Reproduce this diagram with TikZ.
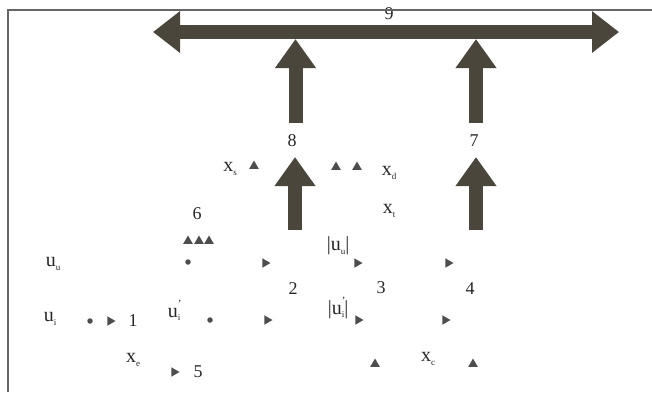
\documentclass[tikz,border=0pt]{standalone}
\usepackage{fontspec}
\setmainfont{Liberation Serif}
\usetikzlibrary{arrows.meta,shapes.geometric}
\definecolor{ink}{HTML}{4A463C}
\definecolor{mark}{HTML}{4D4D4D}
\definecolor{txt}{HTML}{262626}
\newcommand{\vsub}[2]{#1\raisebox{-0.35ex}{\fontsize{9}{9}\selectfont #2}}
\newcommand{\vsubp}[2]{#1\rlap{\raisebox{1.1ex}{\fontsize{11}{11}\selectfont '}}\raisebox{-0.35ex}{\fontsize{9}{9}\selectfont #2}}

\begin{document}
\begin{tikzpicture}[x=1pt, y=-1pt, >={Triangle[width=39pt,length=29pt]},
  num/.style={text=txt, font=\fontsize{18}{18}\selectfont, inner sep=0pt},
  var/.style={text=txt, font=\fontsize{20}{20}\selectfont, inner sep=0pt},
  upmark/.style={regular polygon, regular polygon sides=3, fill=mark, inner sep=0pt, minimum size=11pt},
  rtmark/.style={upmark, shape border rotate=-90},
  dotmark/.style={circle, fill=mark, inner sep=0pt, minimum size=5.5pt},
  fat/.style={draw=ink, line width=14pt},
  frame/.style={draw=black!60, line width=1.5pt}]
  \useasboundingbox (0,0) rectangle (652,392);
  % bus 9 and the two feeds
  \coordinate (busl) at (153,32);
  \coordinate (busr) at (619,32);
  \coordinate (in8) at (295.5,39);
  \coordinate (in7) at (476,39);
  \coordinate (out8) at (295.5,123);
  \coordinate (out7) at (476,123);
  \coordinate (top8) at (295,157);
  \coordinate (top7) at (476,157);
  \coordinate (bot8) at (295,230);
  \coordinate (bot7) at (476,230);
  \draw[fat, {Triangle[width=40pt,length=27pt]}-{Triangle[width=40pt,length=27pt]}] (busl) -- (busr);
  \draw[fat, ->] (out8) -- (in8);
  \draw[fat, ->] (out7) -- (in7);
  \draw[fat, ->] (bot8) -- (top8);
  \draw[fat, ->] (bot7) -- (top7);
  \node[num] (n9) at (389,14) {9};
  \draw[frame] (8,392) |- (652,10);
  \node[num] (n8) at (292,141) {8};
  \node[num] (n7) at (474,141) {7};
  % upper marks
  \node[var] (xs) at (230,169) {\vsub{x}{s}};
  \node[upmark] (ms) at (254,166) {};
  \node[upmark] (md1) at (336,167) {};
  \node[upmark] (md2) at (357,167) {};
  \node[var] (xd) at (389,173) {\vsub{x}{d}};
  \node[var] (xt) at (389,211) {\vsub{x}{t}};
  \node[num] (n6) at (197,214) {6};
  \node[upmark] (m6a) at (188,241) {};
  \node[upmark] (m6b) at (199,241) {};
  \node[upmark] (m6c) at (209,241) {};
  % row u_u
  \node[var] (uu) at (53,264) {\vsub{u}{u}};
  \node[dotmark] (du) at (188,262) {};
  \node[rtmark] (ra) at (265,263) {};
  \node[var] (auu) at (338,246) {|\vsub{u}{u}|};
  \node[rtmark] (rb) at (357,263) {};
  \node[rtmark] (rc) at (448,263) {};
  \node[num] (n2) at (293,289) {2};
  \node[num] (n3) at (381,288) {3};
  \node[num] (n4) at (470,289) {4};
  % row u_i
  \node[var] (ui) at (50,319) {\vsub{u}{i}};
  \node[dotmark] (di) at (90,321) {};
  \node[rtmark] (rd) at (110,321) {};
  \node[num] (n1) at (133,321) {1};
  \node[var] (uip) at (174,310) {\vsubp{u}{i}};
  \node[dotmark] (dp) at (210,320) {};
  \node[rtmark] (re) at (267,320) {};
  \node[var] (aui) at (338,308) {|\vsubp{u}{i}|};
  \node[rtmark] (rf) at (358,320) {};
  \node[rtmark] (rg) at (445,320) {};
  % bottom row
  \node[var] (xe) at (133,360) {\vsub{x}{e}};
  \node[rtmark] (rh) at (174,372) {};
  \node[num] (n5) at (198,372) {5};
  \node[upmark] (mc1) at (375,364) {};
  \node[var] (xc) at (428,359) {\vsub{x}{c}};
  \node[upmark] (mc2) at (473,364) {};
\end{tikzpicture}
\end{document}
